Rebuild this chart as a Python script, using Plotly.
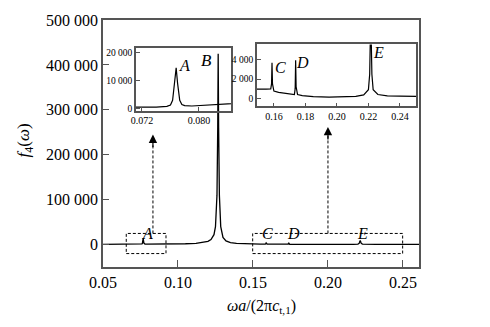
import plotly.graph_objects as go

# ---- data ----
freq = [0.050, 0.060, 0.0713, 0.074, 0.0755, 0.0760, 0.0763, 0.0766, 0.0768, 0.0770,
        0.0773, 0.0776, 0.0780, 0.0790, 0.0800, 0.0820, 0.0845, 0.095, 0.105, 0.112,
        0.117, 0.120, 0.122, 0.124, 0.125, 0.126, 0.1265, 0.1268, 0.1271, 0.1276,
        0.1285, 0.130, 0.132, 0.135, 0.139, 0.145, 0.1492, 0.155, 0.1580, 0.1585,
        0.1588, 0.1591, 0.1595, 0.160, 0.163, 0.167, 0.171, 0.1730, 0.1735, 0.1738,
        0.1741, 0.1745, 0.175, 0.178, 0.185, 0.195, 0.205, 0.212, 0.217, 0.2200,
        0.2208, 0.2212, 0.2215, 0.2218, 0.2222, 0.223, 0.226, 0.232, 0.240, 0.2502,
        0.262]
f4 = [300, 350, 450, 550, 800, 1300, 3000, 9000, 14500, 9000,
      3000, 1500, 1100, 950, 950, 950, 1000, 1200, 1800, 2800,
      4500, 7000, 11000, 22000, 40000, 110000, 260000, 425000, 260000, 110000,
      40000, 16000, 8000, 4500, 2500, 1400, 950, 950, 980, 1500,
      3700, 1500, 900, 750, 620, 500, 400, 380, 1000, 3950,
      1200, 600, 400, 280, 180, 120, 130, 200, 350, 900,
      2500, 6000, 9000, 6000, 2500, 900, 400, 250, 220, 200,
      180]

main_yticks = [0, 100000, 200000, 300000, 400000, 500000]
main_yticktext = ["0", "100 000", "200 000", "300 000", "400 000", "500 000"]
main_xticks = [0.05, 0.10, 0.15, 0.20, 0.25]
main_xticktext = ["0.05", "0.10", "0.15", "0.20", "0.25"]
in1_xticks = [0.072, 0.080]
in1_xticktext = ["0.072", "0.080"]
in1_yticks = [0, 10000, 20000]
in1_yticktext = ["0", "10 000", "20 000"]
in2_xticks = [0.16, 0.18, 0.20, 0.22, 0.24]
in2_xticktext = ["0.16", "0.18", "0.20", "0.22", "0.24"]
in2_yticks = [0, 2000, 4000]
in2_yticktext = ["0", "2 000", "4 000"]

FONT = "Liberation Serif, DejaVu Serif, serif"
AX = "#555555"

fig = go.Figure()
fig.add_trace(go.Scatter(x=freq, y=f4, mode="lines", line=dict(color="black", width=1.3),
                         xaxis="x", yaxis="y", showlegend=False))
fig.add_trace(go.Scatter(x=freq, y=f4, mode="lines", line=dict(color="black", width=1.2),
                         xaxis="x2", yaxis="y2", showlegend=False))
fig.add_trace(go.Scatter(x=freq, y=f4, mode="lines", line=dict(color="black", width=1.2),
                         xaxis="x3", yaxis="y3", showlegend=False))

def ax_common(size):
    return dict(showline=True, linecolor=AX, linewidth=1.5, mirror=True, ticks="inside",
                tickcolor=AX, showgrid=False, zeroline=False,
                tickfont=dict(family=FONT, size=size, color="black"))

fig.update_layout(
    width=490, height=327,
    margin=dict(l=103, r=71, t=15, b=60),
    paper_bgcolor="white", plot_bgcolor="rgba(0,0,0,0)",
    xaxis=dict(domain=[0, 1], range=[0.05, 0.2607], tickvals=main_xticks,
               ticktext=main_xticktext, ticklen=7, **ax_common(16)),
    yaxis=dict(domain=[0, 1], range=[-50000, 500000], tickvals=main_yticks,
               ticktext=main_yticktext, ticklen=6, **ax_common(16)),
    xaxis2=dict(domain=[0.1044, 0.4051], range=[0.07116, 0.0845], anchor="y2",
                tickvals=in1_xticks, ticktext=in1_xticktext, ticklen=4, **ax_common(10)),
    yaxis2=dict(domain=[0.633, 0.885], range=[-700, 21400], anchor="x2",
                tickvals=in1_yticks, ticktext=in1_yticktext, ticklen=4, **ax_common(9.5)),
    xaxis3=dict(domain=[0.487, 0.9905], range=[0.1492, 0.2502], anchor="y3",
                tickvals=in2_xticks, ticktext=in2_xticktext, ticklen=4, **ax_common(10)),
    yaxis3=dict(domain=[0.650, 0.901], range=[-845, 5600], anchor="x3",
                tickvals=in2_yticks, ticktext=in2_yticktext, ticklen=4, **ax_common(9.5)),
)

# dashed boxes
for x0, x1 in [(0.0655, 0.092), (0.1498, 0.2498)]:
    fig.add_shape(type="rect", xref="x", yref="y", x0=x0, x1=x1, y0=-20100, y1=24700,
                  line=dict(color="black", width=1, dash="3px,2px"))

# dashed arrows
for xa, tip in [(0.0833, 245000), (0.20, 262000)]:
    fig.add_shape(type="line", xref="x", yref="y", x0=xa, x1=xa, y0=24700, y1=tip - 20000,
                  line=dict(color="black", width=1, dash="3px,2px"))
    fig.add_annotation(x=xa, y=tip, xref="x", yref="y", ax=0, ay=14, text="",
                       showarrow=True, arrowhead=2, arrowsize=1.4, arrowwidth=1.2,
                       arrowcolor="black")

def label(t, x, y, xr, yr, size=16):
    fig.add_annotation(x=x, y=y, xref=xr, yref=yr, text="<i>%s</i>" % t, showarrow=False,
                       xanchor="center", yanchor="middle",
                       font=dict(family=FONT, size=size, color="black"))

# main labels
label("A", 0.0798, 25000, "x", "y")
label("B", 0.1193, 410000, "x", "y", 17)
label("C", 0.160, 25000, "x", "y")
label("D", 0.1767, 25000, "x", "y")
label("E", 0.2233, 25000, "x", "y")
# inset labels
label("A", 0.0779, 15200, "x2", "y2")
label("C", 0.1644, 3220, "x3", "y3")
label("D", 0.1782, 3730, "x3", "y3")
label("E", 0.2263, 4740, "x3", "y3")

# axis titles
fig.add_annotation(x=-0.247, y=0.512, xref="paper", yref="paper", textangle=-90,
                   xanchor="center", yanchor="middle",
                   text="<i>f</i><sub>4</sub>(<i>ω</i>)", showarrow=False,
                   font=dict(family=FONT, size=17, color="black"))
fig.add_annotation(x=0.5, y=-0.159, xref="paper", yref="paper",
                   xanchor="center", yanchor="middle",
                   text="<i>ωa</i>/(2π<i>c</i><sub>t,1</sub>)", showarrow=False,
                   font=dict(family=FONT, size=16, color="black"))

fig.write_html("out.html")
